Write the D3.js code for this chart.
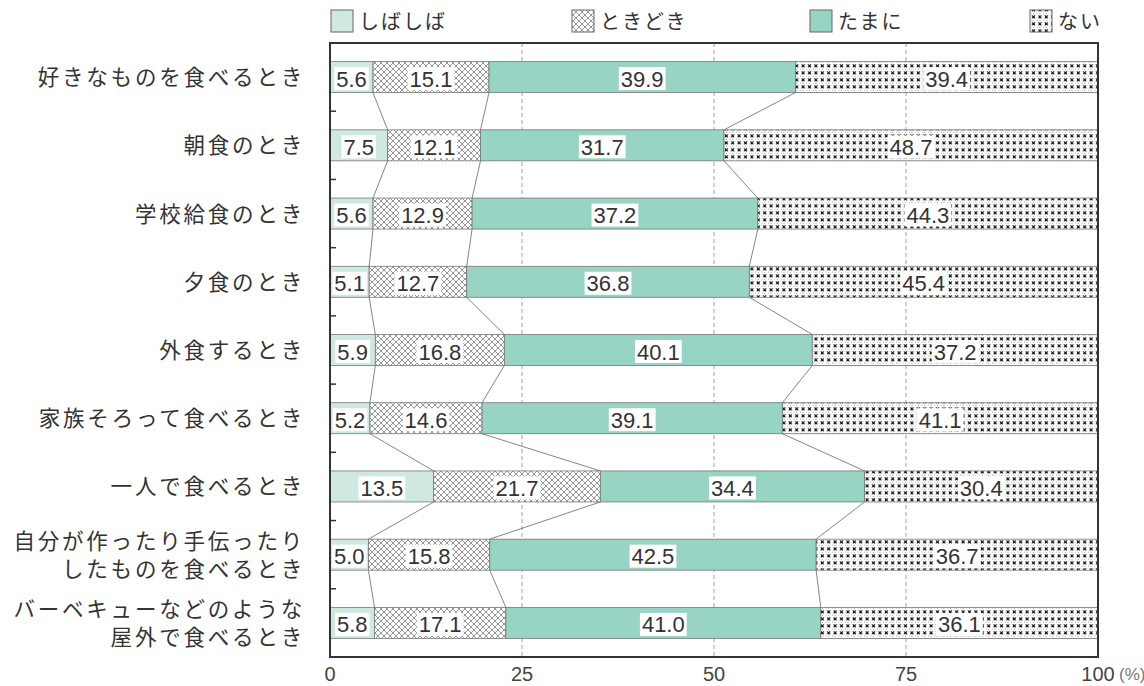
<!DOCTYPE html>
<html>
<head>
<meta charset="utf-8">
<script src="https://cdn.jsdelivr.net/npm/d3@7/dist/d3.min.js"></script>
<style>
  body { margin: 0; background: #fff; }
  svg { display: block; }
</style>
</head>
<body>
<div id="chart"></div>
<script>
// categories (multi-line labels split by \n)
const categories = [
  '好きなものを食べるとき',
  '朝食のとき',
  '学校給食のとき',
  '夕食のとき',
  '外食するとき',
  '家族そろって食べるとき',
  '一人で食べるとき',
  '自分が作ったり手伝ったり\nしたものを食べるとき',
  'バーベキューなどのような\n屋外で食べるとき'
];
const seriesNames = ['しばしば', 'ときどき', 'たまに', 'ない'];
const shibashiba = [5.6, 7.5, 5.6, 5.1, 5.9, 5.2, 13.5, 5.0, 5.8];
const tokidoki   = [15.1, 12.1, 12.9, 12.7, 16.8, 14.6, 21.7, 15.8, 17.1];
const tamani     = [39.9, 31.7, 37.2, 36.8, 40.1, 39.1, 34.4, 42.5, 41.0];
const nai        = [39.4, 48.7, 44.3, 45.4, 37.2, 41.1, 30.4, 36.7, 36.1];
const xTicks = [0, 25, 50, 75, 100];

const W = 1144, H = 686;
const margin = { left: 330, right: 46, top: 43, bottom: 29 };

const svg = d3.select('#chart').append('svg')
  .attr('width', W).attr('height', H);

// patterns
const defs = svg.append('defs');
const hatch = defs.append('pattern').attr('id', 'hatch')
  .attr('width', 6).attr('height', 6).attr('patternUnits', 'userSpaceOnUse');
hatch.append('rect').attr('width', 6).attr('height', 6).attr('fill', '#fff');
hatch.append('path').attr('d', 'M0,0 L6,6 M6,0 L0,6 M-1,5 L1,7 M5,-1 L7,1 M-1,1 L1,-1 M5,7 L7,5')
  .attr('stroke', '#6a6a6a').attr('stroke-width', 0.7);

const dots = defs.append('pattern').attr('id', 'dots')
  .attr('width', 6.4).attr('height', 7).attr('patternUnits', 'userSpaceOnUse');
dots.append('rect').attr('width', 6.4).attr('height', 7).attr('fill', '#fff');
dots.append('path').attr('d', 'M1.6,1.4 L4.6,4.4 M4.6,1.4 L1.6,4.4')
  .attr('stroke', '#111').attr('stroke-width', 1.1);
dots.append('circle').attr('cx', 0).attr('cy', 6).attr('r', 0.6).attr('fill', '#555');
dots.append('circle').attr('cx', 3.1).attr('cy', 6.2).attr('r', 0.55).attr('fill', '#777');

const fills = ['#cfe9e0', 'url(#hatch)', '#97d4c3', 'url(#dots)'];

const x = d3.scaleLinear().domain([0, 100])
  .range([margin.left, W - margin.right]);
const y = d3.scaleBand().domain(d3.range(categories.length))
  .range([margin.top, H - margin.bottom]);
const barH = 31;

// stacked data
const rows = categories.map((c, i) => ({ i, shibashiba: shibashiba[i], tokidoki: tokidoki[i], tamani: tamani[i], nai: nai[i] }));
const keys = ['shibashiba', 'tokidoki', 'tamani', 'nai'];
const stacked = d3.stack().keys(keys)(rows);

// gridlines
svg.append('g').selectAll('line').data([25, 50, 75]).join('line')
  .attr('x1', d => x(d)).attr('x2', d => x(d))
  .attr('y1', margin.top).attr('y2', H - margin.bottom)
  .attr('stroke', '#888').attr('stroke-width', 0.8).attr('stroke-dasharray', '4,3');

// connector lines between consecutive bars
const conn = svg.append('g');
for (let k = 0; k < 3; k++) {
  for (let i = 0; i < categories.length - 1; i++) {
    const a = stacked[k][i][1], b = stacked[k][i + 1][1];
    conn.append('line')
      .attr('x1', x(a)).attr('y1', y(i) + y.bandwidth() / 2 + barH / 2)
      .attr('x2', x(b)).attr('y2', y(i + 1) + y.bandwidth() / 2 - barH / 2)
      .attr('stroke', '#666').attr('stroke-width', 0.8);
  }
}

// bars
stacked.forEach((s, k) => {
  svg.append('g').selectAll('rect').data(s).join('rect')
    .attr('x', d => x(d[0]))
    .attr('width', d => x(d[1]) - x(d[0]))
    .attr('y', (d, i) => y(i) + y.bandwidth() / 2 - barH / 2)
    .attr('height', barH)
    .attr('fill', fills[k])
    .attr('stroke', '#777').attr('stroke-width', 0.8);
});

// value labels with white boxes
const lab = svg.append('g')
  .attr('font-family', '"Liberation Sans", "Noto Sans", sans-serif')
  .attr('font-size', 22).attr('fill', '#333');
stacked.forEach((s, k) => {
  s.forEach((d, i) => {
    const cx = (x(d[0]) + x(d[1])) / 2;
    const cy = y(i) + y.bandwidth() / 2;
    const g = lab.append('g');
    const t = g.append('text').attr('x', cx).attr('y', cy + 9.5)
      .attr('text-anchor', 'middle').text(d3.format('.1f')(d[1] - d[0]));
    const bb = t.node().getBBox();
    g.insert('rect', 'text')
      .attr('x', bb.x - 2).attr('y', cy - 10)
      .attr('width', bb.width + 4).attr('height', 23)
      .attr('fill', '#fff');
  });
});

// frame
svg.append('rect')
  .attr('x', margin.left).attr('y', margin.top)
  .attr('width', W - margin.left - margin.right)
  .attr('height', H - margin.top - margin.bottom)
  .attr('fill', 'none').attr('stroke', '#333').attr('stroke-width', 2);

// left ticks between bands
svg.append('g').selectAll('line').data(d3.range(1, categories.length)).join('line')
  .attr('x1', margin.left).attr('x2', margin.left + 6)
  .attr('y1', d => y(d)).attr('y2', d => y(d))
  .attr('stroke', '#333').attr('stroke-width', 1.5);

// category labels
const catG = svg.append('g')
  .attr('font-family', '"Noto Sans CJK JP", sans-serif')
  .attr('font-size', 21.5).attr('fill', '#333')
  .attr('letter-spacing', 2.8).attr('text-anchor', 'end');
categories.forEach((c, i) => {
  const lines = c.split('\n');
  const cy = y(i) + y.bandwidth() / 2;
  lines.forEach((ln, j) => {
    catG.append('text')
      .attr('x', 305)
      .attr('y', cy + 8 + (j - (lines.length - 1) / 2) * 28)
      .text(ln);
  });
});

// x axis labels
const xa = svg.append('g')
  .attr('font-family', '"Liberation Sans", "Noto Sans", sans-serif')
  .attr('font-size', 20).attr('fill', '#444');
xa.selectAll('text').data(xTicks).join('text')
  .attr('x', d => x(d)).attr('y', 681)
  .attr('text-anchor', 'middle').text(d => d);
xa.append('text').attr('x', x(100) + 21).attr('y', 680)
  .attr('font-size', 17).attr('fill', '#777').text('(%)');

// legend
const legendX = [331, 572, 810, 1030];
const leg = svg.append('g')
  .attr('font-family', '"Noto Sans CJK JP", sans-serif')
  .attr('font-size', 20).attr('fill', '#333').attr('letter-spacing', 2);
seriesNames.forEach((n, k) => {
  leg.append('rect').attr('x', legendX[k]).attr('y', 10)
    .attr('width', 22).attr('height', 22)
    .attr('fill', fills[k]).attr('stroke', '#666').attr('stroke-width', 1);
  leg.append('text').attr('x', legendX[k] + 28).attr('y', 29).text(n);
});
</script>
</body>
</html>
